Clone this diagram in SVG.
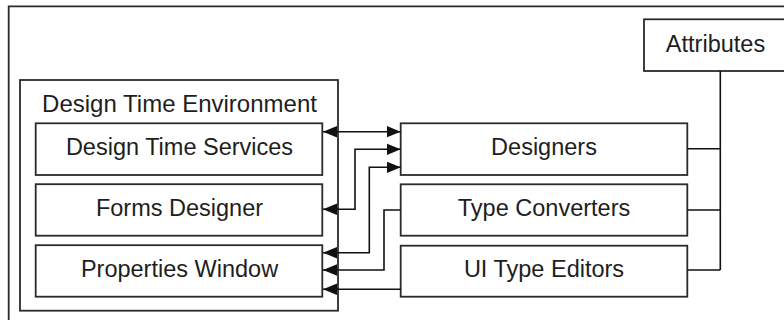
<svg xmlns="http://www.w3.org/2000/svg" width="784" height="320" viewBox="0 0 784 320">
<defs>
<style>
.box{fill:#fff;stroke:#2b2b2b;stroke-width:1.8}
.frame{fill:none;stroke:#2b2b2b;stroke-width:1.8}
.lbl{font-family:"Liberation Sans",Arial,sans-serif;font-size:23.5px;fill:#1e1e1e;text-anchor:middle}
.conn{fill:none;stroke:#111;stroke-width:1.6}
</style>
<marker id="ah" markerUnits="userSpaceOnUse" markerWidth="14" markerHeight="12" viewBox="0 0 13 10.6" refX="13" refY="5.3" orient="auto-start-reverse">
<path d="M0,0 L13,5.3 L0,10.6 z" fill="#111"/>
</marker>
</defs>
<rect width="784" height="320" fill="#fff"/>
<path class="frame" d="M8.7,330 V6.3 H790"/>
<g id="attributes">
<rect class="box" x="644" y="19.3" width="150" height="51.7"/>
<text class="lbl" x="715.5" y="51.5">Attributes</text>
</g>
<g id="design-time-environment">
<rect class="box" x="20" y="80" width="318" height="230.7"/>
<text class="lbl" x="179.5" y="112" style="font-size:24px">Design Time Environment</text>
</g>
<g id="design-time-services">
<rect class="box" x="35.7" y="123.3" width="286.6" height="51.7"/>
<text class="lbl" x="179.5" y="155">Design Time Services</text>
</g>
<g id="forms-designer">
<rect class="box" x="35.7" y="184.2" width="286.6" height="51.5"/>
<text class="lbl" x="179.5" y="215.8">Forms Designer</text>
</g>
<g id="properties-window">
<rect class="box" x="35.7" y="245.2" width="286.6" height="51.5"/>
<text class="lbl" x="179.5" y="276.8">Properties Window</text>
</g>
<g id="designers">
<rect class="box" x="400.7" y="123.3" width="286.6" height="51.7"/>
<text class="lbl" x="544" y="155">Designers</text>
</g>
<g id="type-converters">
<rect class="box" x="400.7" y="184.3" width="286.6" height="51.4"/>
<text class="lbl" x="544" y="216">Type Converters</text>
</g>
<g id="ui-type-editors">
<rect class="box" x="400.7" y="245.7" width="286.6" height="51"/>
<text class="lbl" x="544" y="277">UI Type Editors</text>
</g>
<g id="connectors">
<path class="conn" d="M323,131.7 H400.7" marker-start="url(#ah)" marker-end="url(#ah)"/>
<path class="conn" d="M323,209.3 H355 V149.3 H400.7" marker-start="url(#ah)" marker-end="url(#ah)"/>
<path class="conn" d="M323,252.7 H369.3 V167.3 H400.7" marker-start="url(#ah)" marker-end="url(#ah)"/>
<path class="conn" d="M400.7,210 H384 V270 H323" marker-end="url(#ah)"/>
<path class="conn" d="M400.7,289.3 H323" marker-end="url(#ah)"/>
<path class="conn" d="M720.3,71 V270 M687.3,148.7 H720.3 M687.3,210 H720.3 M687.3,270 H720.3"/>
</g>
</svg>
